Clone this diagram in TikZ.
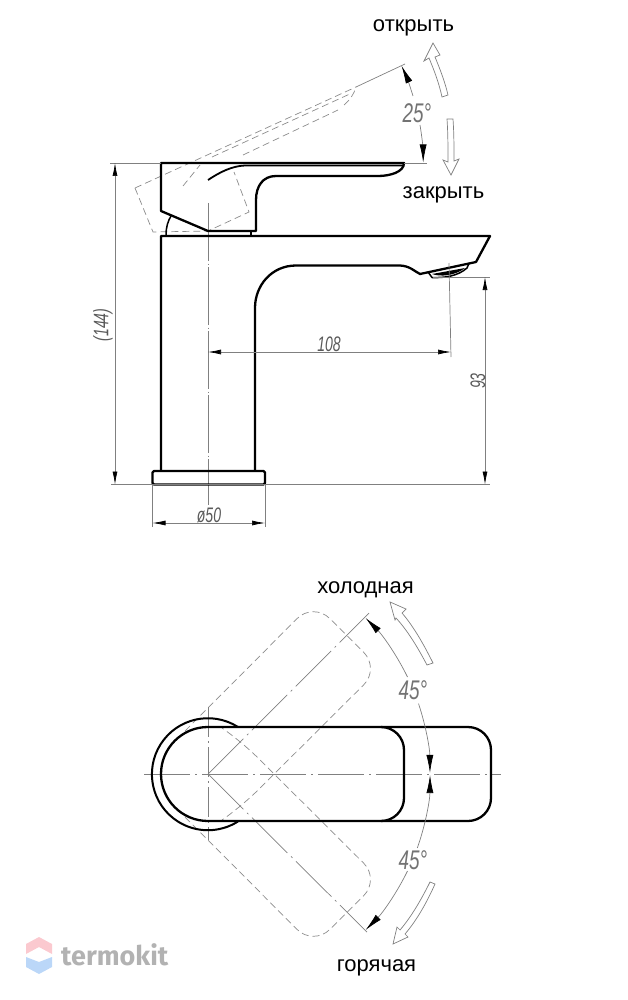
\documentclass[tikz,border=0pt]{standalone}
\usepackage{fontspec}
\setmainfont{Liberation Sans}
\newfontfamily\wmfont{Fira Sans}
\usetikzlibrary{arrows.meta}
\definecolor{thin}{gray}{0.5}
\definecolor{ghostc}{gray}{0.55}
\definecolor{wmpink}{HTML}{FBC9CF}
\definecolor{wmblue}{HTML}{BBD7F8}
\tikzset{
  x=1pt,y=-1pt,
  body/.style={draw=black,line width=2.3pt,line join=round},
  slim/.style={draw=thin,line width=.7pt},
  ghost/.style={draw=ghostc,line width=.7pt,dash pattern=on 7pt off 4pt},
  axis/.style={draw=thin,line width=.7pt,dash pattern=on 58pt off 2.5pt on 1pt off 2.5pt},
  dim/.style={slim,{Latex[length=13pt,width=5pt,black]}-{Latex[length=13pt,width=5pt,black]}},
  dimend/.style={slim,-{Latex[length=18pt,width=7pt,black]}},
  hollow/.style={draw=thin,line width=.7pt,line join=miter},
  label/.style={font=\fontsize{22}{24}\selectfont,text=black,inner sep=0pt,anchor=base},
  dimtext/.style={font=\fontsize{21}{24}\selectfont\itshape,text=black!65,inner sep=0pt,transform shape},
  angletext/.style={font=\fontsize{27}{30}\selectfont\itshape,text=black!55,inner sep=0pt,transform shape},
}
\begin{document}
\begin{tikzpicture}
\useasboundingbox (0,0) rectangle (628,1000);
% ---------- SIDE VIEW ----------
% ghost handle
\draw[ghost] (135,188) -- (356,87);
\draw[ghost] (212,157) -- (352,93);
\draw[ghost] (243,155) -- (338,110);
\draw[ghost] (135,188) -- (153,232) -- (208,231) -- (249,212) -- (234,172);
\draw[ghost] (183,186) -- (200,165);
\draw[ghost] (344,105) .. controls (350,100) and (354,94) .. (356,87);
% centre line
\draw[axis] (208,203) -- (208,505);
% handle
\draw[body] (161,163) -- (404,163) .. controls (404,172) and (390,176) .. (378,176)
  -- (276,176) .. controls (263,176) and (256,186) .. (256,200) -- (256,231) -- (208,231) -- (161,211) -- cycle;
\draw[body,line width=1.8pt] (208,180) .. controls (220,172) and (232,166) .. (245,165.5) -- (404,165.5);
\draw[body,line width=1.5pt] (166,235) .. controls (166,227) and (168,221) .. (171,216);
\draw[body,line width=1.5pt] (251,231) -- (251,236);
% spout and column
\draw[body] (161,471) -- (161,236) -- (490,236) -- (476,262) -- (420,274)
  .. controls (414,271) and (410,266) .. (400,265.5) -- (296,265.5)
  .. controls (272,265.5) and (255,285) .. (255,308) -- (255,471);
% aerator
\draw[body,line width=1.5pt] (428,272) -- (432,277.5) .. controls (445,278) and (458,276) .. (467,268) -- (469,263.5);
\fill[black] (432,274) .. controls (440,277) and (455,276) .. (465,268) -- (432,274);
% base
\draw[body,rounded corners=1.5pt] (152.5,471) rectangle (265,484.5);
% dims side
\draw[slim] (110,163) -- (161,163);
\draw[slim] (111,484.5) -- (490,484.5);
\draw[dim] (115,163) -- (115,484.5);
\node[dimtext,rotate=90,xscale=.67] (d144) at (103,325) {(144)};
\draw[slim] (433,277) -- (490,277);
\draw[dim] (485,277) -- (485,484.5);
\node[dimtext,rotate=90,xscale=.67] (d93) at (478,381) {93};
\draw[slim] (449,263) -- (451,357);
\draw[dim] (208,352) -- (451,352);
\node[dimtext,xscale=.67] (d108) at (329,344) {108};
\draw[slim] (152.5,485) -- (152.5,527);
\draw[slim] (265,485) -- (265,527);
\draw[dim] (152.5,523) -- (265,523);
\node[dimtext,xscale=.67] (d50) at (209,515) {ø50};
% 25 deg
\draw[slim] (356,87) -- (405,64);
\draw[slim] (404,163) -- (427,163);
\draw[dimend] (413,96) arc[start angle=16.8,end angle=24.8,radius=232pt];
\draw[dimend] (420,125) arc[start angle=9.5,end angle=0.2,radius=232pt];
\node[angletext,xscale=.7] (a25) at (417,113) {25°};
% open arrows
\draw[hollow] (442,97) .. controls (439,83) and (434,70) .. (429,58) -- (424,61) -- (433,43) -- (440,55) -- (435,57) .. controls (440,69) and (445,82) .. (448,95) -- cycle;
\draw[hollow] (447,119) .. controls (448,133) and (448,148) .. (448,162) -- (443,160) -- (451,175) -- (459,159) -- (454,161) .. controls (454,147) and (454,133) .. (453,119) -- cycle;
\node[label] (open) at (413.5,32) {открыть};
\node[label] (close) at (443.5,199) {закрыть};
% ---------- TOP VIEW ----------
\draw[ghost,rounded corners=23pt] (185,731) -- (313.4,602.2) -- (380,668.6) -- (241,807) -- (222,820);
\draw[ghost,rounded corners=23pt] (185,817) -- (313.4,945.8) -- (380,879.4) -- (241,741) -- (222,728);
\draw[axis,dash pattern=on 50pt off 5pt on 2pt off 5pt] (208,774) -- (369,613);
\draw[axis,dash pattern=on 50pt off 5pt on 2pt off 5pt] (208,774) -- (367,932);
\draw[axis,dash pattern=on 46pt off 5pt on 2pt off 5pt] (144,774) -- (501,774);
\draw[axis,dash pattern=on 30pt off 4pt on 2pt off 4pt] (208,707) -- (208,840);
\draw[body] (208,727) -- (468,727) arc[start angle=90,end angle=0,radius=23pt] -- (491,798)
  arc[start angle=0,end angle=-90,radius=23pt] -- (208,821) arc[start angle=270,end angle=90,radius=47pt] -- cycle;
\draw[body] (381,727) arc[start angle=90,end angle=0,radius=23pt] -- (404,798) arc[start angle=0,end angle=-90,radius=23pt];
\draw[body,line width=2pt] (238,727) arc[start angle=57.5,end angle=302.5,radius=56pt];
% 45 deg arcs
\draw[dimend] (407.5,677) arc[start angle=26,end angle=44.8,radius=222pt];
\draw[dimend] (418.5,703.6) arc[start angle=18.5,end angle=0.3,radius=222pt];
\draw[dimend] (407.5,871) arc[start angle=-26,end angle=-44.8,radius=222pt];
\draw[dimend] (417.3,848) arc[start angle=-19.5,end angle=-0.3,radius=222pt];
\node[angletext,xscale=.7] (a45a) at (413,690) {45°};
\node[angletext,xscale=.7] (a45b) at (413,860) {45°};
% open arrows top view
\draw[hollow] (427,665) .. controls (418,648) and (408,631) .. (396,618) -- (395,620) -- (390,602) -- (406,609) -- (402,613) .. controls (414,627) and (424,645) .. (433,663) -- cycle;
\draw[hollow] (430,882) .. controls (422,898) and (412,916) .. (400,930) -- (397,927) -- (393,944) -- (408,937) -- (405,934) .. controls (417,920) and (427,902) .. (435,884) -- cycle;
\node[label] (cold) at (365.5,593) {холодная};
\node[label] (hot) at (376.5,971) {горячая};
% ---------- WATERMARK ----------
\fill[wmpink] (39,937) -- (52,944) -- (52,954) -- (39,947) -- (26,954) -- (26,944) -- cycle;
\fill[wmblue] (26,957) -- (39,962) -- (52,957) -- (52,967) -- (39,974) -- (26,967) -- cycle;
\node[inner sep=0pt,anchor=west,text=black!30,font=\fontsize{27}{28}\selectfont\bfseries\wmfont] (wm) at (61,955) {termokit};
\end{tikzpicture}
\end{document}
